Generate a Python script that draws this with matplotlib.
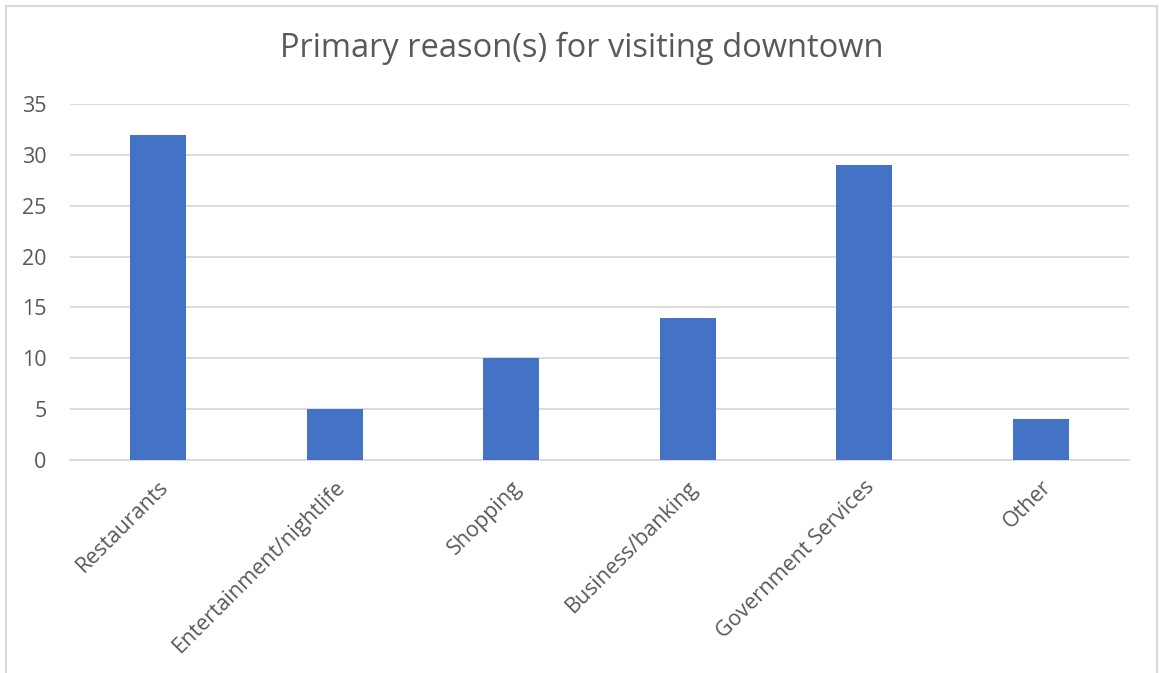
import matplotlib
matplotlib.use("Agg")
import matplotlib.pyplot as plt
from matplotlib.patches import Rectangle

categories = ["Restaurants", "Entertainment/nightlife", "Shopping",
              "Business/banking", "Government Services", "Other"]
values = [32, 5, 10, 14, 29, 4]
yticks = [0, 5, 10, 15, 20, 25, 30, 35]
title = "Primary reason(s) for visiting downtown"

plt.rcParams['font.family'] = ['Open Sans', 'DejaVu Sans']
text_color = "#595959"
grid_color = "#d9d9d9"
bar_color = "#4472C4"

fig = plt.figure(figsize=(11.59, 6.73), dpi=100)
fig.patches.append(Rectangle((6/1159, -0.01), (1157-6)/1159, 1 - 6/673 + 0.01,
                             transform=fig.transFigure, fill=False,
                             edgecolor=grid_color, linewidth=1.5))
ax = fig.add_axes([70/1159, 1 - 460/673, (1129-70)/1159, (460-104)/673])
x = list(range(len(categories)))
ax.bar(x, values, width=0.317, color=bar_color, zorder=3)
ax.set_xlim(-0.5, len(categories) - 0.5)
ax.set_ylim(0, 35)
ax.set_yticks(yticks)
ax.set_yticklabels([str(v) for v in yticks])
ax.yaxis.grid(True, color=grid_color, linewidth=1.3, zorder=0)
ax.set_axisbelow(True)
for s in ["top", "right", "left"]:
    ax.spines[s].set_visible(False)
ax.spines["bottom"].set_color(grid_color)
ax.spines["bottom"].set_linewidth(1.3)
ax.tick_params(axis="both", length=0, colors=text_color, labelsize=15.5)
ax.tick_params(axis="y", pad=17)
ax.set_xticks(x)
ax.set_xticklabels(categories, rotation=45, ha="right", va="top",
                   rotation_mode="anchor")
ax.tick_params(axis="x", pad=12)
fig.text(582/1159, 1 - 48/673, title, ha="center", va="center",
         fontsize=23.5, color=text_color)
fig.savefig("out.png", dpi=100)
